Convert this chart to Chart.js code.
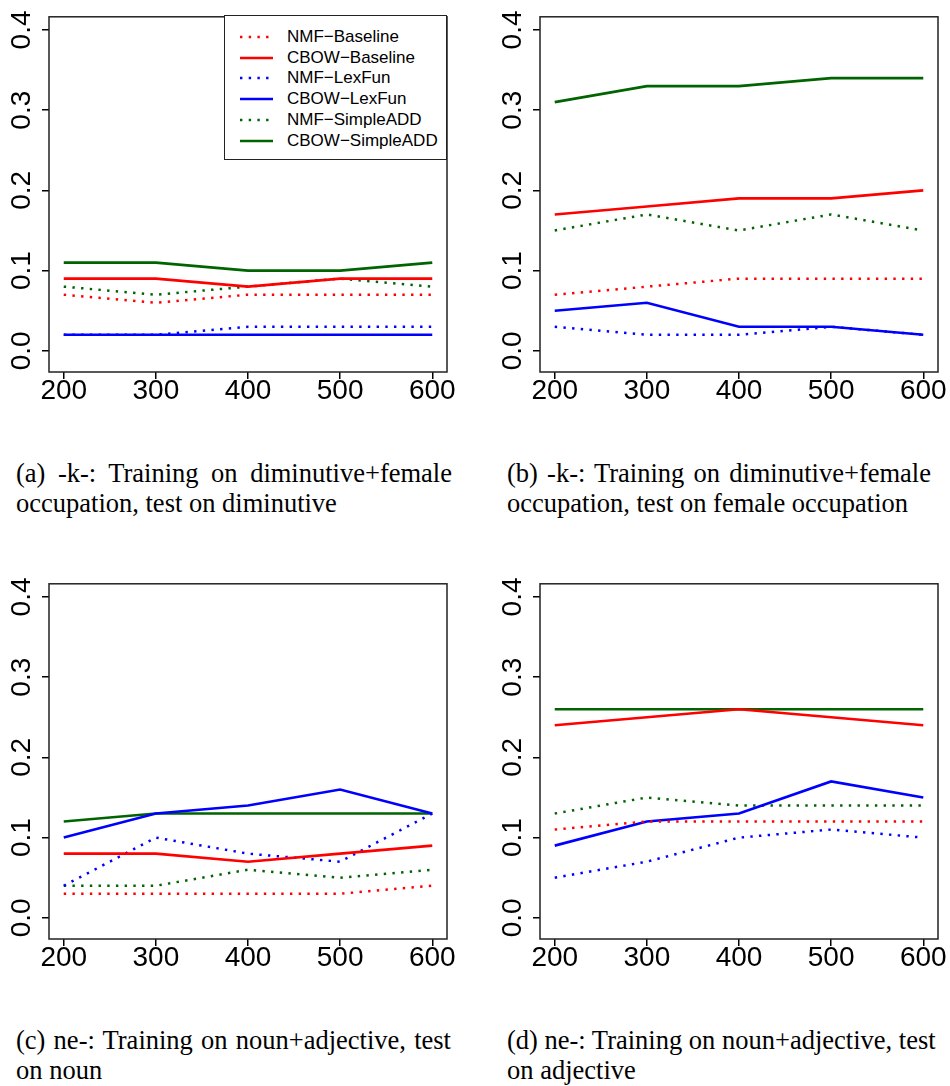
<!DOCTYPE html>
<html>
<head>
<meta charset="utf-8">
<script src="https://cdn.jsdelivr.net/npm/chart.js@4.4.1/dist/chart.umd.min.js"></script>
<style>
body { margin: 0; background: #fff; width: 950px; height: 1086px; position: relative; overflow: hidden; }
canvas { position: absolute; }
.cap { position: absolute; font-family: "Liberation Serif", "Times New Roman", serif; font-size: 26.5px; line-height: 30px; color: #000; }
.cap .l1 { text-align: justify; text-align-last: justify; white-space: nowrap; }
.legend { position: absolute; left: 224px; top: 15px; width: 223px; height: 145px; box-sizing: border-box; border: 1.5px solid #222; background: #fff; }
.legend .row { position: absolute; left: 0; height: 20px; font-family: "Liberation Sans", Arial, sans-serif; font-size: 17px; line-height: 20px; color: #000; }
.legend svg { position: absolute; left: 15px; top: 0; }
.legend span { position: absolute; left: 62px; top: 0; white-space: nowrap; }
</style>
</head>
<body>
<canvas id="chartA" width="475" height="420" style="left:0px;top:0px"></canvas>
<canvas id="chartB" width="459" height="420" style="left:491px;top:0px"></canvas>
<canvas id="chartC" width="475" height="420" style="left:0px;top:567px"></canvas>
<canvas id="chartD" width="459" height="420" style="left:491px;top:567px"></canvas>
<div class="legend" id="legend"></div>
<div class="cap" id="capA" style="left:16px;top:458px;width:436px"></div>
<div class="cap" id="capB" style="left:507px;top:458px;width:424px"></div>
<div class="cap" id="capC" style="left:16px;top:1025px;width:435px"></div>
<div class="cap" id="capD" style="left:507px;top:1025px;width:424px"></div>
<script>
var sizes = [200, 300, 400, 500, 600];
var yTickValues = [0, 0.1, 0.2, 0.3, 0.4];
var seriesNames = ['NMF\u2212Baseline', 'CBOW\u2212Baseline', 'NMF\u2212LexFun', 'CBOW\u2212LexFun', 'NMF\u2212SimpleADD', 'CBOW\u2212SimpleADD'];

// (a) diminutive+female occupation -> diminutive
var a_nmfBaseline = [0.07, 0.06, 0.07, 0.07, 0.07];
var a_cbowBaseline = [0.09, 0.09, 0.08, 0.09, 0.09];
var a_nmfLexFun = [0.02, 0.02, 0.03, 0.03, 0.03];
var a_cbowLexFun = [0.02, 0.02, 0.02, 0.02, 0.02];
var a_nmfSimpleAdd = [0.08, 0.07, 0.08, 0.09, 0.08];
var a_cbowSimpleAdd = [0.11, 0.11, 0.10, 0.10, 0.11];

// (b) diminutive+female occupation -> female occupation
var b_nmfBaseline = [0.07, 0.08, 0.09, 0.09, 0.09];
var b_cbowBaseline = [0.17, 0.18, 0.19, 0.19, 0.20];
var b_nmfLexFun = [0.03, 0.02, 0.02, 0.03, 0.02];
var b_cbowLexFun = [0.05, 0.06, 0.03, 0.03, 0.02];
var b_nmfSimpleAdd = [0.15, 0.17, 0.15, 0.17, 0.15];
var b_cbowSimpleAdd = [0.31, 0.33, 0.33, 0.34, 0.34];

// (c) noun+adjective -> noun
var c_nmfBaseline = [0.03, 0.03, 0.03, 0.03, 0.04];
var c_cbowBaseline = [0.08, 0.08, 0.07, 0.08, 0.09];
var c_nmfLexFun = [0.04, 0.10, 0.08, 0.07, 0.13];
var c_cbowLexFun = [0.10, 0.13, 0.14, 0.16, 0.13];
var c_nmfSimpleAdd = [0.04, 0.04, 0.06, 0.05, 0.06];
var c_cbowSimpleAdd = [0.12, 0.13, 0.13, 0.13, 0.13];

// (d) noun+adjective -> adjective
var d_nmfBaseline = [0.11, 0.12, 0.12, 0.12, 0.12];
var d_cbowBaseline = [0.24, 0.25, 0.26, 0.25, 0.24];
var d_nmfLexFun = [0.05, 0.07, 0.10, 0.11, 0.10];
var d_cbowLexFun = [0.09, 0.12, 0.13, 0.17, 0.15];
var d_nmfSimpleAdd = [0.13, 0.15, 0.14, 0.14, 0.14];
var d_cbowSimpleAdd = [0.26, 0.26, 0.26, 0.26, 0.26];

var captionA = ['(a) -k-:  Training on diminutive+female', 'occupation, test on diminutive'];
var captionB = ['(b) -k-:  Training on diminutive+female', 'occupation, test on female occupation'];
var captionC = ['(c) ne-: Training on noun+adjective, test', 'on noun'];
var captionD = ['(d) ne-: Training on noun+adjective, test', 'on adjective'];

var lineColors = ['#ff0000', '#ff0000', '#0000ff', '#0000ff', '#006400', '#006400'];
var isDotted = [true, false, true, false, true, false];

// box around the plot region, like R's box()
var framePlugin = {
	id: 'frame',
	afterDraw: function(chart) {
		var a = chart.chartArea, c = chart.ctx;
		c.save();
		c.strokeStyle = '#222';
		c.lineWidth = 1.5;
		c.strokeRect(a.left, a.top, a.right - a.left, a.bottom - a.top);
		c.restore();
	}
};

function makeChart(id, series, rightPad) {
	var ctx = document.getElementById(id).getContext('2d');
	return new Chart(ctx, {
		type: 'line',
		data: {
			datasets: series.map(function(vals, k) {
				return {
					label: seriesNames[k],
					data: vals.map(function(v, i) { return { x: sizes[i], y: v }; }),
					borderColor: lineColors[k],
					borderWidth: isDotted[k] ? 2.5 : 2.6,
					borderDash: isDotted[k] ? [2.4, 6.3] : [],
					pointRadius: 0,
					tension: 0,
					fill: false
				};
			})
		},
		options: {
			responsive: false,
			animation: false,
			events: [],
			layout: { padding: { top: 15, right: rightPad, left: 0, bottom: 0 } },
			scales: {
				x: {
					type: 'linear',
					min: 184,
					max: 616,
					afterBuildTicks: function(s) { s.ticks = sizes.map(function(v) { return { value: v }; }); },
					afterFit: function(s) { s.height = 48; },
					grid: { drawOnChartArea: false, drawTicks: true, tickLength: 7, color: '#000', lineWidth: 1.5 },
					border: { display: false },
					ticks: {
						font: { family: 'Liberation Sans', size: 28 },
						color: '#000',
						padding: -5,
						maxRotation: 0,
						autoSkip: false,
						callback: function(v) { return String(v); }
					}
				},
				y: {
					type: 'linear',
					min: -0.0264,
					max: 0.4164,
					afterBuildTicks: function(s) { s.ticks = yTickValues.map(function(v) { return { value: v }; }); },
					afterFit: function(s) { s.width = 49; },
					grid: { drawOnChartArea: false, drawTicks: true, tickLength: 7, color: '#000', lineWidth: 1.5 },
					border: { display: false },
					ticks: {
						font: { family: 'Liberation Sans', size: 28 },
						color: '#000',
						minRotation: 90,
						maxRotation: 90,
						crossAlign: 'center',
						padding: 0,
						autoSkip: false,
						callback: function(v) { return v.toFixed(1); }
					}
				}
			},
			plugins: { legend: { display: false }, tooltip: { enabled: false } }
		},
		plugins: [framePlugin]
	});
}

makeChart('chartA', [a_nmfBaseline, a_cbowBaseline, a_nmfLexFun, a_cbowLexFun, a_nmfSimpleAdd, a_cbowSimpleAdd], 28);
makeChart('chartB', [b_nmfBaseline, b_cbowBaseline, b_nmfLexFun, b_cbowLexFun, b_nmfSimpleAdd, b_cbowSimpleAdd], 12);
makeChart('chartC', [c_nmfBaseline, c_cbowBaseline, c_nmfLexFun, c_cbowLexFun, c_nmfSimpleAdd, c_cbowSimpleAdd], 28);
makeChart('chartD', [d_nmfBaseline, d_cbowBaseline, d_nmfLexFun, d_cbowLexFun, d_nmfSimpleAdd, d_cbowSimpleAdd], 12);

// legend in panel (a)
var legend = document.getElementById('legend');
seriesNames.forEach(function(name, k) {
	var row = document.createElement('div');
	row.className = 'row';
	row.style.top = (11 + k * 20.7) + 'px';
	row.style.width = '220px';
	var dash = isDotted[k] ? ' stroke-dasharray="2.4 6.3"' : '';
	row.innerHTML = '<svg width="34" height="20"><line x1="0" y1="10" x2="33" y2="10" stroke="' + lineColors[k] +
		'" stroke-width="2.6"' + dash + '/></svg><span></span>';
	row.querySelector('span').textContent = name;
	legend.appendChild(row);
});

function fillCaption(id, lines) {
	var el = document.getElementById(id);
	lines.forEach(function(t, i) {
		var d = document.createElement('div');
		if (i === 0) d.className = 'l1';
		d.textContent = t;
		el.appendChild(d);
	});
}
fillCaption('capA', captionA);
fillCaption('capB', captionB);
fillCaption('capC', captionC);
fillCaption('capD', captionD);
</script>
</body>
</html>
